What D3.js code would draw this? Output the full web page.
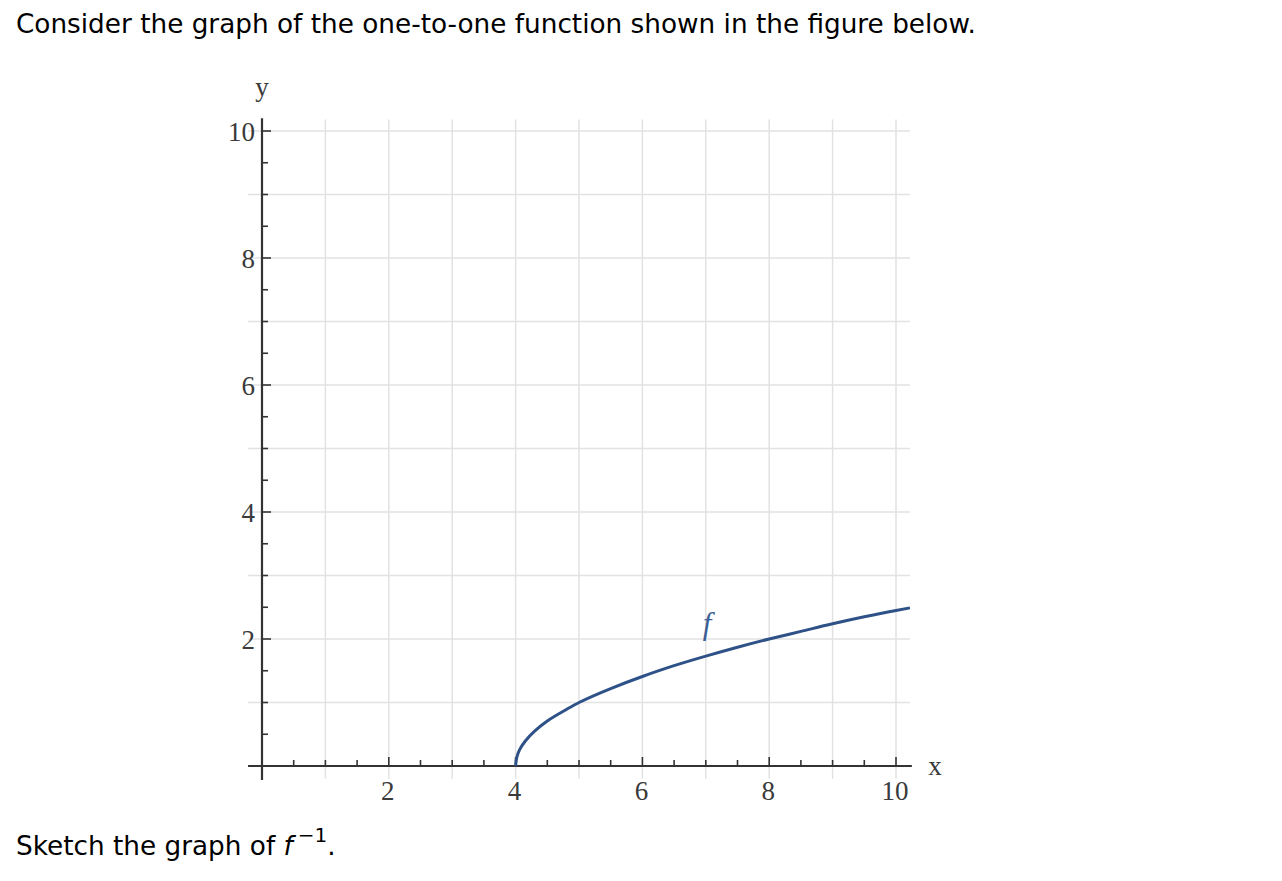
<!DOCTYPE html>
<html>
<head>
<meta charset="utf-8">
<script src="https://cdn.jsdelivr.net/npm/d3@7"></script>
</head>
<body style="margin:0;background:#fff">
<svg width="1282" height="881"></svg>
<script>
  // values
  var curveX = [4, 4.02, 4.06, 4.15, 4.3, 4.5, 4.8, 5, 5.5, 6, 6.5, 7, 7.5, 8, 8.5, 9, 9.5, 10, 10.22];
  var curveY = [0, 0.14, 0.25, 0.39, 0.55, 0.71, 0.89, 1, 1.22, 1.41, 1.58, 1.73, 1.87, 2, 2.12, 2.24, 2.35, 2.45, 2.49];
  var xTickLabels = [2, 4, 6, 8, 10];
  var yTickLabels = [2, 4, 6, 8, 10];
  var gridVals = [1, 2, 3, 4, 5, 6, 7, 8, 9, 10];
  var minorTicks = d3.range(0.5, 10.01, 0.5);

  var sans = "'DejaVu Sans', Verdana, sans-serif";
  var serif = "'Liberation Serif', 'DejaVu Serif', serif";

  var svg = d3.select("svg");
  var x = d3.scaleLinear().domain([0, 10]).range([262, 896]);
  var y = d3.scaleLinear().domain([0, 10]).range([766, 131]);

  // question text
  svg.append("text").attr("x", 16).attr("y", 33)
    .attr("font-family", sans).attr("font-size", 26.3).attr("fill", "#000")
    .text("Consider the graph of the one-to-one function shown in the figure below.");
  var t2 = svg.append("text").attr("x", 16).attr("y", 855)
    .attr("font-family", sans).attr("font-size", 26.3).attr("fill", "#000");
  t2.append("tspan").text("Sketch the graph of ");
  t2.append("tspan").attr("font-style", "italic").text("f");
  t2.append("tspan").attr("dx", 5).attr("dy", -13).attr("font-size", 20).text("\u22121");
  t2.append("tspan").attr("dy", 13).text(".");

  // grid
  var grid = svg.append("g").attr("stroke", "#e2e2e2").attr("stroke-width", 1.5);
  grid.selectAll(".v").data(gridVals).enter().append("line")
    .attr("x1", d => x(d)).attr("x2", d => x(d))
    .attr("y1", y(10.18)).attr("y2", y(-0.2));
  grid.selectAll(".h").data(gridVals).enter().append("line")
    .attr("y1", d => y(d)).attr("y2", d => y(d))
    .attr("x1", x(-0.22)).attr("x2", x(10.22));

  // axes
  var ax = svg.append("g").attr("stroke", "#333");
  ax.append("line").attr("x1", x(-0.22)).attr("x2", x(10.25))
    .attr("y1", y(0)).attr("y2", y(0)).attr("stroke-width", 2.2);
  ax.append("line").attr("x1", x(0)).attr("x2", x(0))
    .attr("y1", y(10.2)).attr("y2", y(-0.22)).attr("stroke-width", 2.2);

  // ticks: every 0.5, longer at labelled values
  ax.selectAll(".xt").data(minorTicks).enter().append("line")
    .attr("x1", d => x(d)).attr("x2", d => x(d))
    .attr("y1", y(0))
    .attr("y2", d => y(0) - (d % 2 === 0 ? 9 : 6))
    .attr("stroke-width", 1.6);
  ax.selectAll(".yt").data(minorTicks).enter().append("line")
    .attr("y1", d => y(d)).attr("y2", d => y(d))
    .attr("x1", x(0))
    .attr("x2", d => x(0) + (d % 2 === 0 ? 9 : 6))
    .attr("stroke-width", 1.6);

  // tick labels
  svg.selectAll(".xl").data(xTickLabels).enter().append("text")
    .attr("font-family", serif).attr("font-size", 27).attr("fill", "#3a3a3a")
    .attr("x", d => x(d) - 1).attr("y", 800)
    .attr("text-anchor", "middle").text(d => d);
  svg.selectAll(".yl").data(yTickLabels).enter().append("text")
    .attr("font-family", serif).attr("font-size", 27).attr("fill", "#3a3a3a")
    .attr("x", 255).attr("y", d => y(d) + 10)
    .attr("text-anchor", "end").text(d => d);
  svg.append("text").attr("font-family", serif).attr("font-size", 27).attr("fill", "#3a3a3a")
    .attr("x", x(0)).attr("y", 96)
    .attr("text-anchor", "middle").text("y");
  svg.append("text").attr("font-family", serif).attr("font-size", 27).attr("fill", "#3a3a3a")
    .attr("x", 935).attr("y", 775)
    .attr("text-anchor", "middle").text("x");

  // curve
  var pts = curveX.map((v, i) => [v, curveY[i]]);
  var line = d3.line().x(d => x(d[0])).y(d => y(d[1])).curve(d3.curveMonotoneY);
  svg.append("path").datum(pts).attr("d", line)
    .attr("fill", "none").attr("stroke", "#2e5288").attr("stroke-width", 3);
  svg.append("text").attr("font-family", serif).attr("font-size", 31)
    .attr("x", 707).attr("y", 634)
    .attr("text-anchor", "middle").attr("font-style", "italic")
    .attr("fill", "#3b5f94").text("f");
</script>
</body>
</html>
